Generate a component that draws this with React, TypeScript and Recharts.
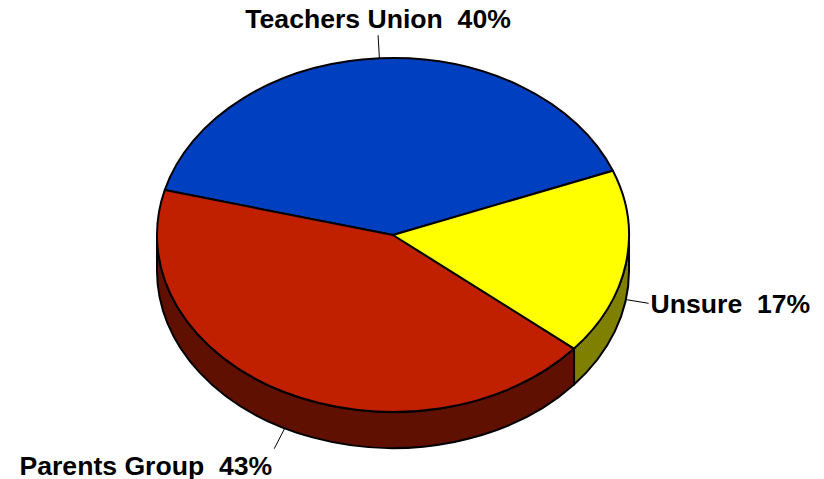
import React from "react";
import { Cell, Pie, PieChart } from "recharts";

const groups = ["Teachers Union", "Parents Group", "Unsure"];
const shares = [40, 43, 17];

const topColors = ["#0040C0", "#C02000", "#FFFF00"];
const sideColors = ["#601000", "#601000", "#808000"];

const data = groups.map((name, i) => ({ name, value: shares[i] }));

const TILT = 177 / 236;
const DEPTH = 36;
const RAD = Math.PI / 180;

function pt(cx: number, cy: number, r: number, deg: number, dy = 0) {
  const a = deg * RAD;
  return [cx + r * Math.cos(a), cy - r * TILT * Math.sin(a) + dy];
}

function sideColorFor(name: string) {
  const i = groups.indexOf(name);
  return sideColors[i] ?? "#333";
}

function Slice3D(props: any) {
  const { cx, cy, outerRadius: r, startAngle, endAngle, fill } = props;
  const name = props.name ?? props.payload?.name;
  const ry = r * TILT;
  let s = Math.min(startAngle, endAngle);
  let e = Math.max(startAngle, endAngle);
  const shift = Math.floor(s / 360) * 360;
  s -= shift;
  e -= shift;

  // visible front wall: angles in [180, 360] (and again one turn later)
  const walls: [number, number][] = [];
  for (const [lo, hi] of [
    [180, 360],
    [540, 720],
  ]) {
    const a = Math.max(s, lo);
    const b = Math.min(e, hi);
    if (b > a) walls.push([a, b]);
  }

  const [sx, sy] = pt(cx, cy, r, s);
  const [ex, ey] = pt(cx, cy, r, e);
  const large = e - s > 180 ? 1 : 0;
  const top = `M${cx},${cy} L${sx},${sy} A${r},${ry} 0 ${large} 0 ${ex},${ey} Z`;

  return (
    <g>
      {walls.map(([a, b], k) => {
        const [ax, ay] = pt(cx, cy, r, a);
        const [bx, by] = pt(cx, cy, r, b);
        const d = `M${ax},${ay} A${r},${ry} 0 0 0 ${bx},${by} L${bx},${by + DEPTH} A${r},${ry} 0 0 1 ${ax},${ay + DEPTH} Z`;
        return (
          <path key={k} d={d} fill={sideColorFor(name)} stroke="#000" strokeWidth={2} strokeLinejoin="round" />
        );
      })}
      <path d={top} fill={fill} stroke="#000" strokeWidth={2} strokeLinejoin="round" />
    </g>
  );
}

function renderLabel(p: any) {
  const { cx, cy, outerRadius, midAngle, name, value } = p;
  const c = Math.cos(midAngle * RAD);
  const s = Math.sin(midAngle * RAD);
  const x0 = cx + outerRadius * c;
  const y0 = cy - outerRadius * TILT * s + (s < 0 ? DEPTH : 0);
  const x1 = x0 + 23 * c;
  const y1 = y0 - 23 * s;
  let anchor: "start" | "middle" | "end" = c >= 0 ? "start" : "end";
  let tx = c >= 0 ? x1 + 2 : x1 - 2;
  let ty = y1 + 10;
  if (s > 0.5) {
    anchor = "middle";
    tx = x1;
    ty = y1 - 7;
  } else if (s < -0.5) {
    ty = y1 + 26;
  }
  return (
    <g>
      <line x1={x0} y1={y0} x2={x1} y2={y1} stroke="#000" strokeWidth={1} />
      <text
        x={tx}
        y={ty}
        textAnchor={anchor}
        fill="#000"
        style={{ whiteSpace: "pre", fontFamily: "'Liberation Sans', Arial, sans-serif", fontWeight: 700, fontSize: 26.6 }}
      >
        {`${name}  ${value}%`}
      </text>
    </g>
  );
}

export default function App() {
  return (
    <div style={{ position: "absolute", left: 0, top: 0, width: 824, height: 479, background: "#fff" }}>
      <PieChart width={824} height={479} margin={{ top: 0, right: 0, bottom: 0, left: 0 }}>
        <Pie
          data={data}
          dataKey="value"
          nameKey="name"
          cx={393}
          cy={235}
          outerRadius={236}
          startAngle={21.3}
          endAngle={381.3}
          stroke="#000"
          strokeWidth={2}
          shape={Slice3D}
          activeShape={Slice3D}
          inactiveShape={Slice3D}
          label={renderLabel}
          labelLine={false}
          isAnimationActive={false}
        >
          {data.map((d, i) => (
            <Cell key={d.name} fill={topColors[i]} />
          ))}
        </Pie>
      </PieChart>
    </div>
  );
}
